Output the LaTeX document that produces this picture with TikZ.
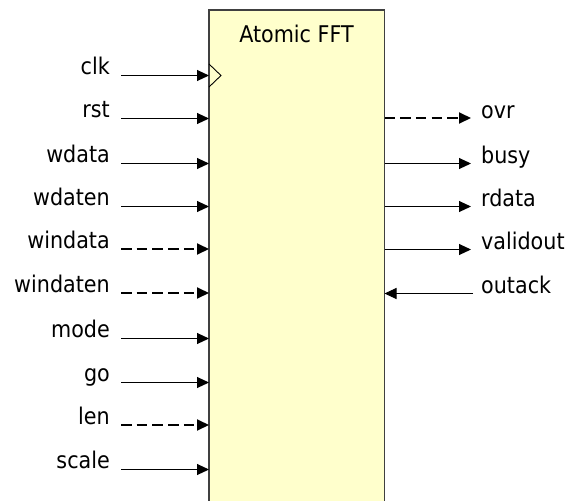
\documentclass[tikz,border=0pt]{standalone}
\usepackage{fontspec}
\setmainfont{DejaVu Sans Condensed}
\usetikzlibrary{arrows.meta}
\definecolor{boxfill}{HTML}{FFFFCC}
\definecolor{boxline}{HTML}{404040}
\begin{document}
\begin{tikzpicture}[x=1pt,y=-1pt,
  lbl/.style={font=\fontsize{23}{26}\selectfont, inner sep=0pt},
  sig/.style={line width=1pt, -{Triangle[length=12pt,width=11pt]}},
  bus/.style={sig, line width=2pt, dash pattern=on 10.5pt off 5.2pt},
]
\useasboundingbox (0,0) rectangle (571,501);
\begin{scope}
\clip (0,0) rectangle (571,501);
\node[draw=boxline, fill=boxfill, line width=1.5pt, minimum width=175.5pt,
      minimum height=520pt, anchor=north west, inner sep=0pt, outer sep=0pt]
      (fft) at (209,10) {};
\end{scope}
\node[lbl, anchor=base] (title) at (296.5,42) {Atomic FFT};
% clock marker
\draw[line width=0.9pt] (fft.west |- 0,64) coordinate (ck1) -- (221,75.5) coordinate (ck2) -- (fft.west |- 0,87) coordinate (ck3);
% left inputs
\foreach \name/\yy/\st in {clk/75.5/sig, rst/118.5/sig, wdata/163.5/sig, wdaten/206.5/sig,
  windata/249/bus, windaten/293/bus, mode/338.5/sig, go/382.5/sig, len/425/bus, scale/469.5/sig} {
  \node[lbl, anchor=base east] (l-\name) at (110,\yy-1) {\name};
  \coordinate (s-\name) at (121,\yy);
  \draw[\st] (s-\name) -- (fft.west |- s-\name);
}
% right outputs
\foreach \name/\yy/\st in {ovr/118/bus, busy/163.5/sig, rdata/206.5/sig, validout/249.5/sig} {
  \coordinate (e-\name) at (471,\yy);
  \draw[\st] (fft.east |- e-\name) -- (e-\name);
  \node[lbl, anchor=base west] (r-\name) at (481,\yy) {\name};
}
% outack input from right
\coordinate (e-outack) at (473,293.5);
\draw[sig] (e-outack) -- (fft.east |- e-outack);
\node[lbl, anchor=base west] (r-outack) at (481,293.5) {outack};
\end{tikzpicture}
\end{document}
